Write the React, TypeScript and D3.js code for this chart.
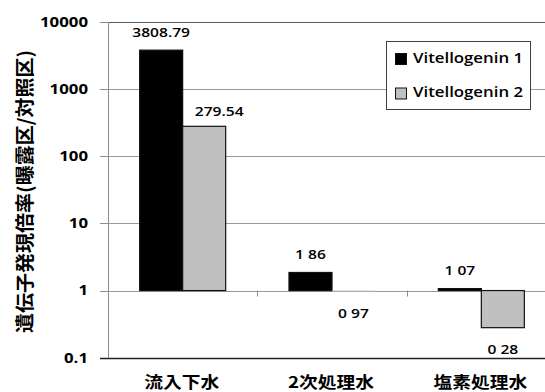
import React from 'react';
import * as d3 from 'd3';

const categories = ['流入下水', '2次処理水', '塩素処理水'];
const seriesNames = ['Vitellogenin 1', 'Vitellogenin 2'];
const vtg1 = [3808.79, 1.86, 1.07];
const vtg2 = [279.54, 0.97, 0.28];
const vtg1Labels = ['3808.79', '1 86', '1 07'];
const vtg2Labels = ['279.54', '0 97', '0 28'];
const yTicks = [0.1, 1, 10, 100, 1000, 10000];
const yTickLabels = ['0.1', '1', '10', '100', '1000', '10000'];
const yTitle = '遺伝子発現倍率(曝露区/対照区)';

const seriesValues = [vtg1, vtg2];
const seriesLabels = [vtg1Labels, vtg2Labels];
const seriesFill = ['#000000', '#c0c0c0'];

const W = 545;
const H = 392;
const LEFT = 108;
const TOP = 22;
const BOTTOM = 357.7;
const RIGHT = 556;

const NUM_FONT = '"Open Sans", "Noto Sans", sans-serif';
const CJK_FONT = '"Noto Sans CJK JP", "Noto Sans CJK SC", sans-serif';

const px = (v: number) => Math.round(v) + 0.5;

function SText(props: {
  x: number; y: number; anchor?: string; size: number; weight: number;
  sx?: number; family?: string; fill?: string; children: React.ReactNode;
}) {
  const { x, y, anchor = 'middle', size, weight, sx = 1.2, family = NUM_FONT, fill = '#000', children } = props;
  return (
    <text
      transform={`translate(${x},${y}) scale(${sx},1)`}
      textAnchor={anchor as any}
      fontSize={size}
      fontWeight={weight}
      fontFamily={family}
      fill={fill}
    >
      {children}
    </text>
  );
}

export default function App() {
  const y = d3.scaleLog().domain([0.1, 10000]).range([BOTTOM, TOP]);
  const x0 = d3.scaleBand<string>().domain(categories).range([LEFT, RIGHT]).padding(0);
  const x1 = d3
    .scaleBand<string>()
    .domain(seriesNames)
    .range([0, x0.bandwidth()])
    .paddingInner(0)
    .paddingOuter(0.736);
  const base = y(1);

  return (
    <svg
      width={W}
      height={H}
      style={{ position: 'absolute', left: 0, top: 0, background: '#fff' }}
    >
      <rect x={0} y={0} width={W} height={H} fill="#fff" />
      {/* gridlines */}
      {yTicks.slice(1, -1).map((t) => (
        <line key={'g' + t} x1={LEFT} x2={RIGHT} y1={px(y(t))} y2={px(y(t))} stroke="#9a9a9a" strokeWidth={1} />
      ))}
      {/* top border */}
      <line x1={LEFT} x2={RIGHT} y1={px(TOP)} y2={px(TOP)} stroke="#5a5a5a" strokeWidth={1.2} />
      {/* y axis */}
      <line x1={px(LEFT)} x2={px(LEFT)} y1={TOP} y2={BOTTOM} stroke="#8c8c8c" strokeWidth={1} />
      {yTicks.map((t) => (
        <line key={'t' + t} x1={LEFT - 8} x2={LEFT} y1={px(y(t))} y2={px(y(t))} stroke="#8c8c8c" strokeWidth={1} />
      ))}
      {/* category ticks on value-1 axis */}
      {categories.slice(1).map((c) => (
        <line key={'ct' + c} x1={px(x0(c)!)} x2={px(x0(c)!)} y1={base} y2={base + 6} stroke="#8c8c8c" strokeWidth={1} />
      ))}
      {/* bottom axis line */}
      <line x1={LEFT - 8} x2={RIGHT} y1={px(BOTTOM)} y2={px(BOTTOM)} stroke="#222" strokeWidth={1.3} />

      {/* bars */}
      {seriesNames.map((s, si) =>
        categories.map((c, ci) => {
          const v = seriesValues[si][ci];
          const yv = y(v);
          const bx = x0(c)! + x1(s)!;
          const top = Math.min(yv, base);
          const h = Math.abs(yv - base);
          return (
            <rect
              key={s + c}
              x={bx}
              y={top}
              width={x1.bandwidth()}
              height={h}
              fill={seriesFill[si]}
              stroke={h < 1.5 ? 'none' : '#111'}
              strokeWidth={1.2}
            />
          );
        })
      )}

      {/* data labels */}
      {seriesNames.map((s, si) =>
        categories.map((c, ci) => {
          const v = seriesValues[si][ci];
          const yv = y(v);
          const cx = x0(c)! + x1(s)! + x1.bandwidth() / 2;
          const special = si === 1 && ci === 0;
          const ly = v >= 1 ? yv - (special ? 10 : 13.3) : yv + 26.3;
          return (
            <SText key={'l' + s + c} x={cx + (special ? 15 : 0)} y={ly} size={13} weight={600}>
              {seriesLabels[si][ci]}
            </SText>
          );
        })
      )}

      {/* y tick labels */}
      {yTicks.map((t, i) => (
        <SText key={'yl' + t} x={88} y={y(t) + 4.8} anchor="end" size={14} weight={700}>
          {yTickLabels[i]}
        </SText>
      ))}

      {/* category labels */}
      {categories.map((c) => (
        <SText key={'cl' + c} x={x0(c)! + x0.bandwidth() / 2 - 1} y={388} size={16} weight={700} sx={1.17} family={CJK_FONT}>
          {c}
        </SText>
      ))}

      {/* y title */}
      <text
        transform={`translate(23,191.5) rotate(-90)`}
        textAnchor="middle"
        dominantBaseline="central"
        fontSize={19}
        fontWeight={700}
        fontFamily={CJK_FONT}
        textLength={283}
        lengthAdjust="spacingAndGlyphs"
        fill="#000"
      >
        {yTitle}
      </text>

      {/* legend */}
      <rect x={386.5} y={41.5} width={144} height={68} fill="#fff" stroke="#404040" strokeWidth={1} />
      {seriesNames.map((s, si) => (
        <g key={'lg' + s}>
          <rect x={395.5} y={53.5 + si * 34.5} width={11} height={11} fill={seriesFill[si]} stroke="#111" strokeWidth={1} />
          <SText x={413} y={62.5 + si * 34.5} anchor="start" size={14} weight={600}>
            {s}
          </SText>
        </g>
      ))}
    </svg>
  );
}
